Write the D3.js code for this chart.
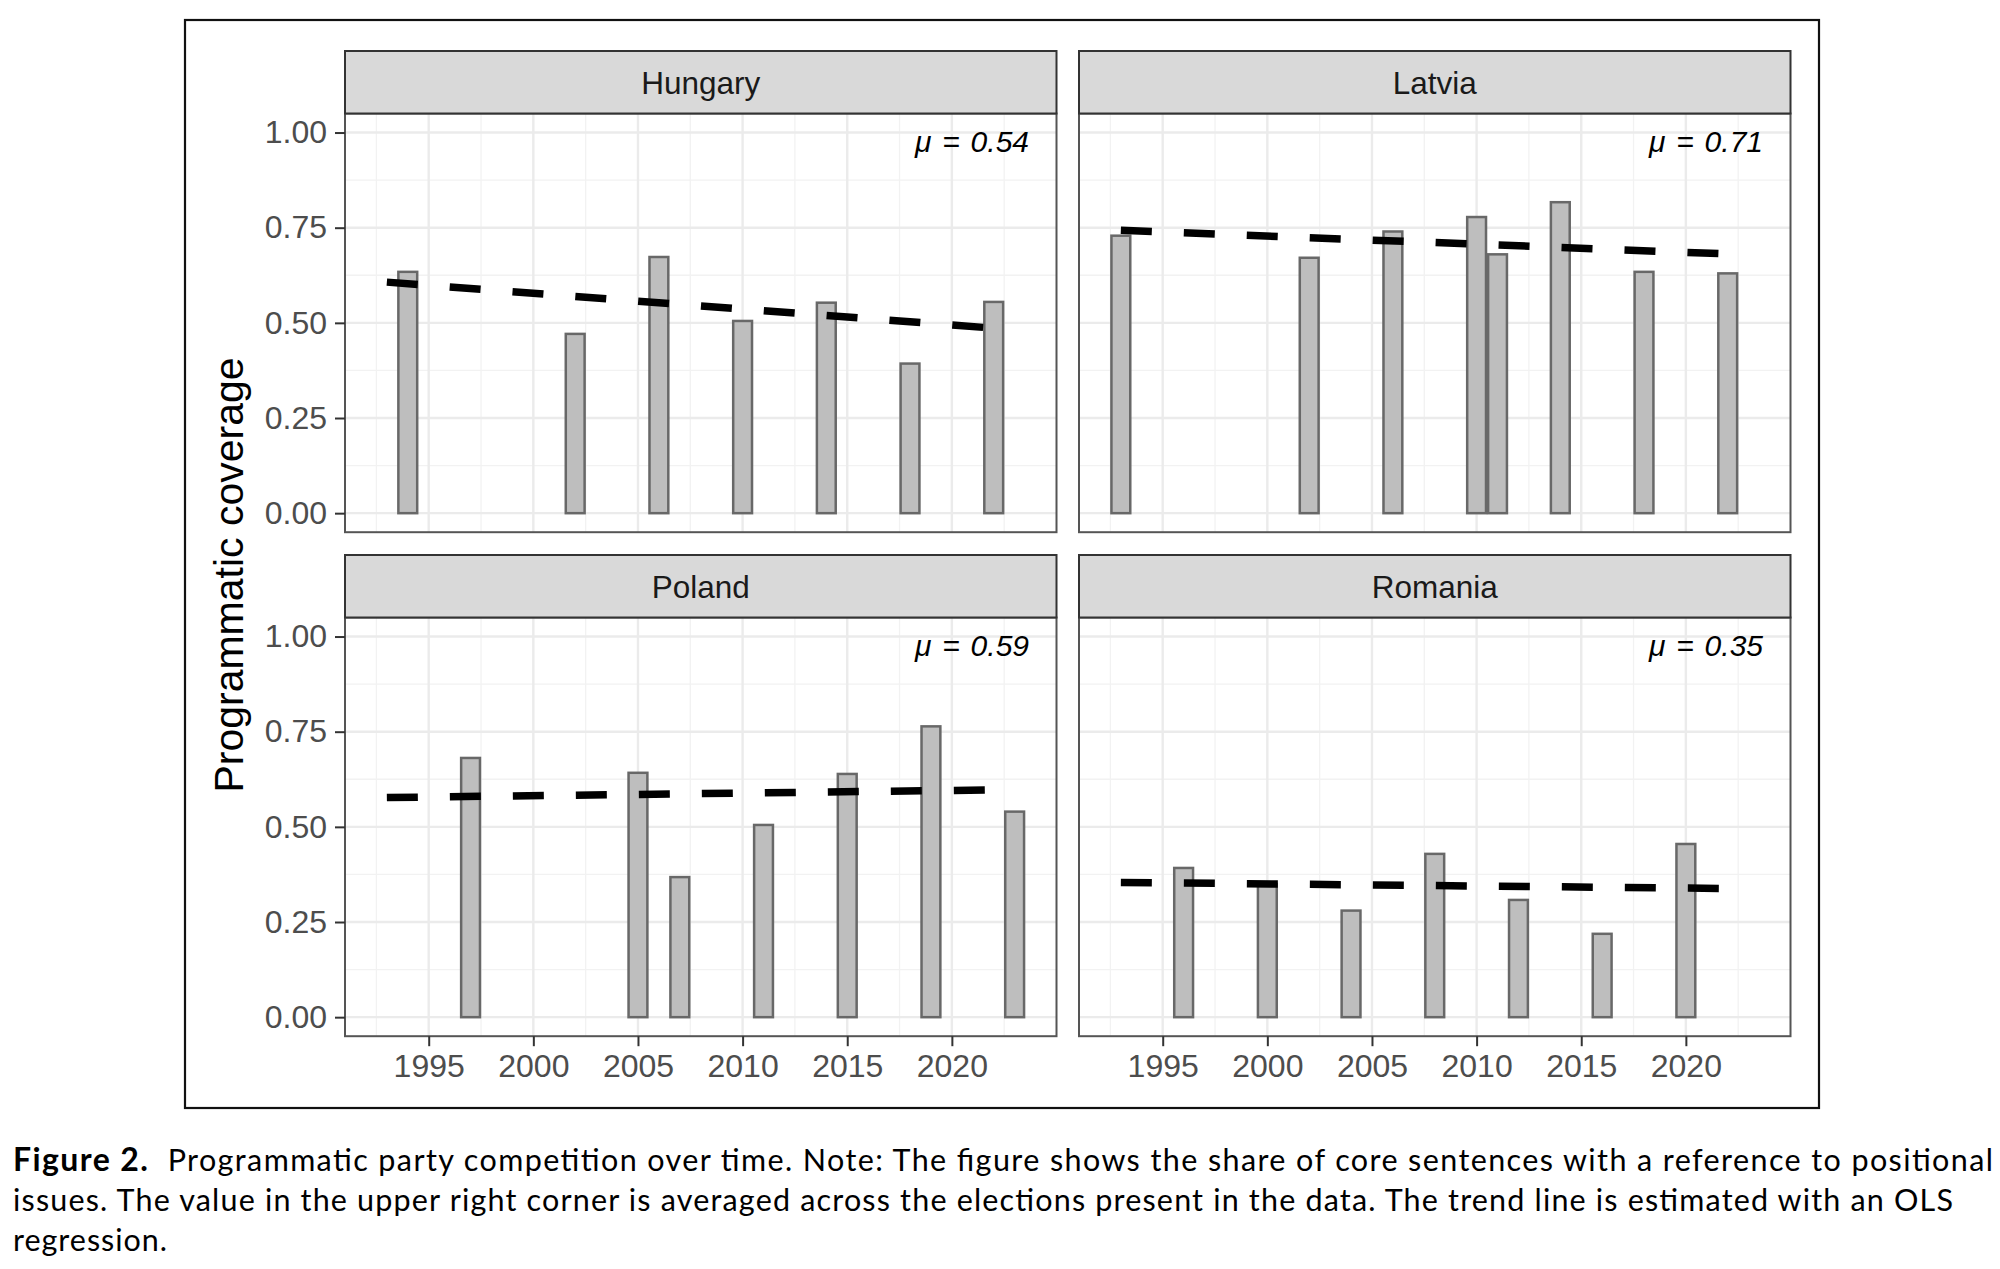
<!DOCTYPE html>
<meta charset="utf-8">
<script src="https://d3js.org/d3.v7.min.js"></script>
<style>
  body { margin: 0; background: #fff; }
</style>
<div id="chart"></div>
<script>
// ---- data ----
const countries = ["Hungary", "Latvia", "Poland", "Romania"];

const hungaryYears  = [1994, 2002, 2006, 2010, 2014, 2018, 2022];
const hungaryValues = [0.634, 0.471, 0.673, 0.505, 0.553, 0.393, 0.555];

const latviaYears  = [1993, 2002, 2006, 2010, 2011, 2014, 2018, 2022];
const latviaValues = [0.729, 0.671, 0.740, 0.778, 0.680, 0.817, 0.634, 0.630];

const polandYears  = [1997, 2005, 2007, 2011, 2015, 2019, 2023];
const polandValues = [0.681, 0.642, 0.368, 0.505, 0.639, 0.764, 0.540];

const romaniaYears  = [1996, 2000, 2004, 2008, 2012, 2016, 2020];
const romaniaValues = [0.392, 0.350, 0.280, 0.429, 0.308, 0.219, 0.455];

const meanLabels = ["0.54", "0.71", "0.59", "0.35"];

// OLS trend line, drawn from 1993 to 2022 in every panel
const trendYears = [1993, 2022];
const trendStart = [0.607, 0.743, 0.577, 0.354];
const trendEnd   = [0.486, 0.681, 0.597, 0.338];

const xTicks = [1995, 2000, 2005, 2010, 2015, 2020];
const xMinor = [1992.5, 1997.5, 2002.5, 2007.5, 2012.5, 2017.5, 2022.5];
const yTicks = [0, 0.25, 0.5, 0.75, 1];
const yMinor = [0.125, 0.375, 0.625, 0.875];

const captionLines = [
  "Programmatic party competition over time. Note: The figure shows the share of core sentences with a reference to positional",
  "issues. The value in the upper right corner is averaged across the elections present in the data. The trend line is estimated with an OLS",
  "regression."
];

const yearsBy = [hungaryYears, latviaYears, polandYears, romaniaYears];
const valuesBy = [hungaryValues, latviaValues, polandValues, romaniaValues];

// ---- layout ----
const W = 2000, H = 1269;
const colX = [345, 1079];
const rowY = [51, 555];          // strip tops
const panelW = 711.5, stripH = 62.5, panelH = 418.7;

const svg = d3.select("#chart").append("svg")
  .attr("width", W).attr("height", H)
  .style("font-family", "'Liberation Sans', Arial, sans-serif");

svg.append("rect").attr("width", W).attr("height", H).attr("fill", "#fff");

// outer frame of the figure
svg.append("rect")
  .attr("x", 185).attr("y", 20).attr("width", 1634).attr("height", 1088)
  .attr("fill", "none").attr("stroke", "#111").attr("stroke-width", 2.2);

const x = d3.scaleLinear().domain([1991, 2025]).range([0, panelW]);
const y = d3.scaleLinear().domain([-0.05, 1.05]).range([panelH, 0]);

countries.forEach((name, i) => {
  const col = i % 2, row = Math.floor(i / 2);
  const g = svg.append("g")
    .attr("transform", "translate(" + colX[col] + "," + (rowY[row] + stripH) + ")");

  // strip
  svg.append("rect")
    .attr("x", colX[col]).attr("y", rowY[row])
    .attr("width", panelW).attr("height", stripH)
    .attr("fill", "#D9D9D9").attr("stroke", "#333").attr("stroke-width", 2);
  svg.append("text")
    .attr("x", colX[col] + panelW / 2).attr("y", rowY[row] + 42.5)
    .attr("text-anchor", "middle")
    .attr("font-size", 31.5).attr("fill", "#1A1A1A")
    .text(name);

  // grid
  g.selectAll(".ymin").data(yMinor).join("line")
    .attr("x1", 0).attr("x2", panelW)
    .attr("y1", d => y(d)).attr("y2", d => y(d))
    .attr("stroke", "#F2F2F2").attr("stroke-width", 1.3);
  g.selectAll(".xmin").data(xMinor).join("line")
    .attr("y1", 0).attr("y2", panelH)
    .attr("x1", d => x(d)).attr("x2", d => x(d))
    .attr("stroke", "#F2F2F2").attr("stroke-width", 1.3);
  g.selectAll(".ymaj").data(yTicks).join("line")
    .attr("x1", 0).attr("x2", panelW)
    .attr("y1", d => y(d)).attr("y2", d => y(d))
    .attr("stroke", "#EBEBEB").attr("stroke-width", 2.4);
  g.selectAll(".xmaj").data(xTicks).join("line")
    .attr("y1", 0).attr("y2", panelH)
    .attr("x1", d => x(d)).attr("x2", d => x(d))
    .attr("stroke", "#EBEBEB").attr("stroke-width", 2.4);

  // bars
  const bars = yearsBy[i].map((yr, k) => ({ year: yr, value: valuesBy[i][k] }));
  g.selectAll(".bar").data(bars).join("rect")
    .attr("x", d => x(d.year - 0.45))
    .attr("width", x(1991.9) - x(1991))
    .attr("y", d => y(d.value))
    .attr("height", d => y(0) - y(d.value))
    .attr("fill", "#BEBEBE")
    .attr("stroke", "#686868")
    .attr("stroke-width", 2.5);

  // trend line
  const trend = [
    { year: trendYears[0], value: trendStart[i] },
    { year: trendYears[1], value: trendEnd[i] }
  ];
  g.append("path")
    .datum(trend)
    .attr("fill", "none")
    .attr("stroke", "#000")
    .attr("stroke-width", 7.5)
    .attr("stroke-dasharray", "31,32")
    .attr("d", d3.line().x(d => x(d.year)).y(d => y(d.value)));

  // mean label
  g.append("text")
    .attr("x", panelW - 27.5).attr("y", 38)
    .attr("text-anchor", "end")
    .attr("font-size", 30).attr("font-style", "italic")
    .attr("word-spacing", 2.5)
    .attr("fill", "#000")
    .text("\u03BC = " + meanLabels[i]);

  // panel border
  g.append("rect")
    .attr("width", panelW).attr("height", panelH)
    .attr("fill", "none").attr("stroke", "#555").attr("stroke-width", 2);

  // axes
  if (col === 0) {
    const ya = g.append("g")
      .call(d3.axisLeft(y).tickValues(yTicks).tickFormat(d3.format(".2f"))
        .tickSize(10).tickPadding(8));
    ya.select(".domain").remove();
    ya.selectAll("line").attr("stroke", "#333").attr("stroke-width", 2);
    ya.selectAll("text").attr("font-size", 32).attr("fill", "#4D4D4D")
      .attr("font-family", "'Liberation Sans', Arial, sans-serif");
  }
  if (row === 1) {
    const xa = g.append("g")
      .attr("transform", "translate(0," + panelH + ")")
      .call(d3.axisBottom(x).tickValues(xTicks).tickFormat(d3.format("d"))
        .tickSize(10).tickPadding(8));
    xa.select(".domain").remove();
    xa.selectAll("line").attr("stroke", "#333").attr("stroke-width", 2);
    xa.selectAll("text").attr("font-size", 32).attr("fill", "#4D4D4D")
      .attr("font-family", "'Liberation Sans', Arial, sans-serif");
  }
});

// y axis title
svg.append("text")
  .attr("transform", "translate(243,575) rotate(-90)")
  .attr("text-anchor", "middle")
  .attr("font-size", 41).attr("fill", "#000")
  .text("Programmatic coverage");

// caption
const capBase = [1171, 1211, 1251];
const capWidth = [1980, 1940, 154];
const cap = svg.append("g").style("font-family", "Lato, 'Open Sans', sans-serif");
captionLines.forEach((line, k) => {
  const t = cap.append("text")
    .attr("x", 13).attr("y", capBase[k])
    .attr("font-size", 30.5).attr("fill", "#000")
    .attr("textLength", capWidth[k]).attr("lengthAdjust", "spacing");
  if (k === 0) {
    t.append("tspan").attr("font-weight", "bold").attr("font-size", 32).text("Figure 2.");
    t.append("tspan").text("\u00A0\u00A0" + line);
  } else {
    t.text(line);
  }
});
</script>
